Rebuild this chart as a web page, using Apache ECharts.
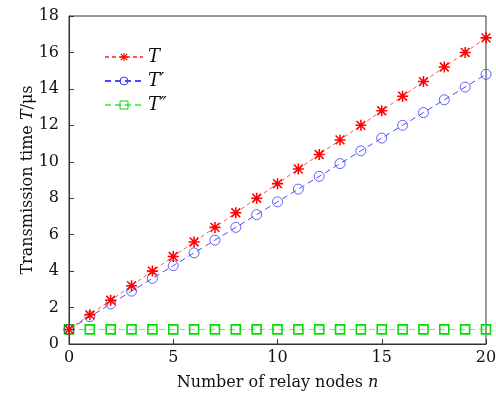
<!DOCTYPE html>
<html>
<head>
<meta charset="utf-8">
<script src="https://cdn.jsdelivr.net/npm/echarts@6/dist/echarts.min.js"></script>
<style>
  html, body { margin: 0; padding: 0; background: #fff; }
  #chart { width: 496px; height: 394px; }
</style>
</head>
<body>
<div id="chart"></div>
<script>
// 中继节点数 n
const nodes = [0, 1, 2, 3, 4, 5, 6, 7, 8, 9, 10, 11, 12, 13, 14, 15, 16, 17, 18, 19, 20];
// T
const seriesT = [0.8, 1.6, 2.4, 3.2, 4.0, 4.8, 5.6, 6.4, 7.2, 8.0, 8.8, 9.6, 10.4, 11.2, 12.0, 12.8, 13.6, 14.4, 15.2, 16.0, 16.8];
// T'
const seriesT1 = [0.8, 1.5, 2.2, 2.9, 3.6, 4.3, 5.0, 5.7, 6.4, 7.1, 7.8, 8.5, 9.2, 9.9, 10.6, 11.3, 12.0, 12.7, 13.4, 14.1, 14.8];
// T''
const seriesT2 = [0.8, 0.8, 0.8, 0.8, 0.8, 0.8, 0.8, 0.8, 0.8, 0.8, 0.8, 0.8, 0.8, 0.8, 0.8, 0.8, 0.8, 0.8, 0.8, 0.8, 0.8];

const names = ["T", "T\u2032", "T\u2033"];

const font = "'DejaVu Serif', 'Liberation Serif', serif";

// 星号标记
const asterisk =
  "path://M0 8.6H20V11.4H0Z M8.6 0H11.4V20H8.6Z M1 3L3 1L19 17L17 19Z M17 1L19 3L3 19L1 17Z";

const toPairs = (ys) => nodes.map((x, i) => [x, ys[i]]);

const options = {
  animation: false,
  grid: {
    top: 16,
    left: 69,
    right: 10,
    bottom: 50,
    outerBoundsMode: "none",
    containLabel: false,
    show: true,
    borderColor: "#333",
    borderWidth: 1,
  },
  legend: {
    orient: "vertical",
    left: 99,
    top: 43,
    itemWidth: 38,
    itemHeight: 10,
    itemGap: 6,
    itemStyle: { borderWidth: 1 },
    textStyle: {
      fontFamily: font,
      fontStyle: "italic",
      fontSize: 18,
      color: "#111",
    },
  },
  xAxis: {
    type: "value",
    min: 0,
    max: 20,
    interval: 5,
    name: "{a|Number of relay nodes }{i|n}",
    nameLocation: "middle",
    nameGap: 31,
    nameMoveOverlap: false,
    nameTextStyle: {
      rich: {
        a: { fontFamily: font, fontSize: 16, color: "#111" },
        i: { fontFamily: font, fontSize: 16, fontStyle: "italic", color: "#111" },
      },
    },
    axisLine: { lineStyle: { color: "#333" } },
    axisTick: { inside: true, length: 5, lineStyle: { color: "#333" } },
    axisLabel: { fontFamily: font, fontSize: 16, color: "#111", margin: 6 },
    splitLine: { show: false },
  },
  yAxis: {
    type: "value",
    min: 0,
    max: 18,
    interval: 2,
    name: "{a|Transmission time }{i|T}{a|/\u03bcs}",
    nameLocation: "middle",
    nameGap: 33,
    nameMoveOverlap: false,
    nameTextStyle: {
      rich: {
        a: { fontFamily: font, fontSize: 16, color: "#111" },
        i: { fontFamily: font, fontSize: 16, fontStyle: "italic", color: "#111" },
      },
    },
    axisLine: { show: true, lineStyle: { color: "#333" } },
    axisTick: { show: true, inside: true, length: 5, lineStyle: { color: "#333" } },
    axisLabel: { fontFamily: font, fontSize: 16, color: "#111", margin: 10 },
    splitLine: { show: false },
  },
  series: [
    {
      name: names[0],
      type: "line",
      data: toPairs(seriesT),
      symbol: asterisk,
      symbolSize: 11,
      itemStyle: { color: "#ff0000" },
      lineStyle: { color: "#ff5555", width: 1, type: [4, 3] },
      z: 3,
    },
    {
      name: names[1],
      type: "line",
      data: toPairs(seriesT1),
      symbol: "circle",
      symbolSize: 10,
      itemStyle: { color: "rgba(255,255,255,0)", borderColor: "#3a3aff", borderWidth: 0.8 },
      lineStyle: { color: "#4a4aff", width: 1, type: [6, 4] },
      z: 2,
    },
    {
      name: names[2],
      type: "line",
      data: toPairs(seriesT2),
      symbol: "rect",
      symbolSize: 9,
      itemStyle: { color: "rgba(255,255,255,0)", borderColor: "#00dd00", borderWidth: 1.6 },
      lineStyle: { color: "#66ee66", width: 1, type: [6, 4] },
      z: 1,
    },
  ],
};

const chart = echarts.init(document.getElementById("chart"));
chart.setOption(options);
</script>
</body>
</html>
